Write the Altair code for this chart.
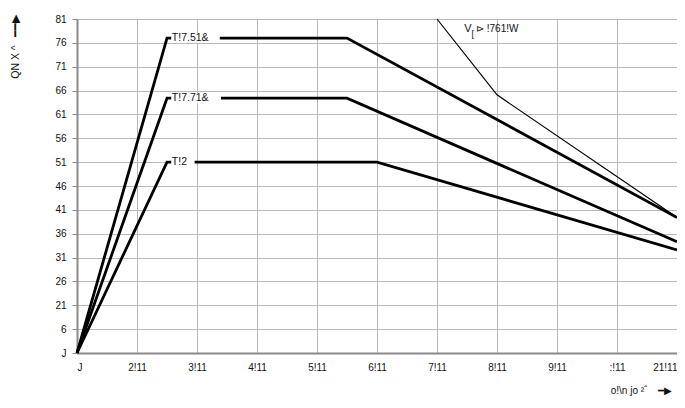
import json
import altair as alt
import pandas as pd

# --- data ---
series_names = ["T!7.51&", "T!7.71&", "T!2"]
speed_top = [0, 1500, 4500, 10000]
torque_top = [0, 66.0, 66.0, 28.4]
speed_mid = [0, 1500, 4500, 10000]
torque_mid = [0, 53.4, 53.4, 23.3]
speed_bot = [0, 1500, 5000, 10000]
torque_bot = [0, 40.0, 40.0, 21.6]

speed_limit = [6000, 7000, 10000]
torque_limit = [70.0, 54.1, 28.4]

label_gap_end = [2380, 2400, 1960]

x_ticks = [0, 1000, 2000, 3000, 4000, 5000, 6000, 7000, 8000, 9000, 10000]
x_tick_labels = ["J", "2!11", "3!11", "4!11", "5!11", "6!11", "7!11", "8!11",
                 "9!11", ":!11", "21!11"]
y_ticks = [0, 5, 10, 15, 20, 25, 30, 35, 40, 45, 50, 55, 60, 65, 70]
y_tick_labels = ["J", "6", "21", "26", "31", "36", "41", "46", "51", "56",
                 "61", "66", "71", "76", "81"]

limit_text = ["V", "[", "\u22b3 !761!W"]
limit_text_x = [6455, 6575, 6650]
limit_text_y = [67.8, 66.8, 67.8]
limit_text_size = [11, 9, 10]

NB = "\u00a0"
x_title = "o!\\n" + NB + "jo" + NB + "\u00b2\u02c6" + NB * 4 + "\u2501\u25b6"
y_title = "QN" + NB + "X" + NB + "^" + NB * 3 + "\u2501\u2501\u25b6"

FONT = "Liberation Sans"

# --- tables ---
rows = []
for name, xs, ys in zip(series_names, [speed_top, speed_mid, speed_bot],
                        [torque_top, torque_mid, torque_bot]):
    for i, (a, b) in enumerate(zip(xs, ys)):
        rows.append({"series": name, "speed": a, "torque": b, "order": i})
curves = pd.DataFrame(rows)

limit = pd.DataFrame({"speed": speed_limit, "torque": torque_limit,
                      "order": list(range(len(speed_limit)))})

labels = pd.DataFrame({
    "series": series_names,
    "x": [s[1] for s in [speed_top, speed_mid, speed_bot]],
    "y": [t[1] for t in [torque_top, torque_mid, torque_bot]],
    "gap_end": label_gap_end,
})
labels["gap_start"] = labels["x"] + 70
labels["tx"] = labels["x"] + 80

ann = pd.DataFrame({"text": limit_text, "x": limit_text_x, "y": limit_text_y,
                    "size": limit_text_size})

x_expr = json.dumps(x_tick_labels) + "[round(datum.value/1000)]"
y_expr = json.dumps(y_tick_labels) + "[round(datum.value/5)]"

xscale = alt.Scale(domain=[0, 10000], nice=False, zero=False)
yscale = alt.Scale(domain=[0, 70], nice=False, zero=False)

x_axis = alt.Axis(values=x_ticks, labelExpr=x_expr, ticks=False, labelPadding=9,
                  labelFlush=True, labelOverlap=False, title=x_title,
                  titleX=595, titleY=37,
                  titleAlign="right", titleBaseline="middle", titleFontSize=10,
                  titleFontWeight="normal")
y_axis = alt.Axis(values=y_ticks, labelExpr=y_expr, tickSize=5, labelPadding=6,
                  labelOverlap=False, tickCount=len(y_ticks),
                  title=y_title, titleAngle=270, titleX=-62, titleY=-5,
                  titleAlign="right", titleBaseline="middle", titleFontSize=10.5,
                  titleFontWeight="normal")


def X(field):
    return alt.X(field, type="quantitative", scale=xscale, axis=x_axis)


def Y(field):
    return alt.Y(field, type="quantitative", scale=yscale, axis=y_axis)


base_lines = alt.Chart(curves).mark_line(color="#000000", strokeWidth=2.8).encode(
    x=X("speed"),
    y=Y("torque"),
    detail="series:N",
    order="order:Q",
)

limit_line = alt.Chart(limit).mark_line(color="#000000", strokeWidth=1.2).encode(
    x=X("speed"),
    y=Y("torque"),
    order="order:Q",
)

gaps = alt.Chart(labels).mark_rule(color="#ffffff", strokeWidth=10, strokeCap="butt").encode(
    x=X("gap_start"),
    x2="gap_end:Q",
    y=Y("y"),
)

label_text = alt.Chart(labels).mark_text(align="left", baseline="middle", fontSize=10.5,
                                          font=FONT, color="#111111").encode(
    x=X("tx"),
    y=Y("y"),
    text="series:N",
)

ann_text = alt.Chart(ann).mark_text(align="left", baseline="middle", font=FONT,
                                     color="#111111").encode(
    x=X("x"),
    y=Y("y"),
    text="text:N",
    size=alt.Size("size:Q", scale=None, legend=None),
)

chart = alt.layer(base_lines, limit_line, gaps, label_text, ann_text).properties(
    width=600,
    height=334,
    autosize=alt.AutoSizeParams(type="none"),
    padding={"left": 69, "top": 11, "right": 0, "bottom": 46},
).configure_view(stroke=None).configure_axis(
    gridColor="#b9b9b9", gridWidth=1, domainColor="#8a8a8a", domainWidth=2,
    tickColor="#8a8a8a", tickWidth=1, labelFont=FONT, labelFontSize=10,
    labelColor="#111111", titleFont=FONT, titleColor="#111111",
)

chart.save("out.html", embed_options={"renderer": "svg", "actions": False})
